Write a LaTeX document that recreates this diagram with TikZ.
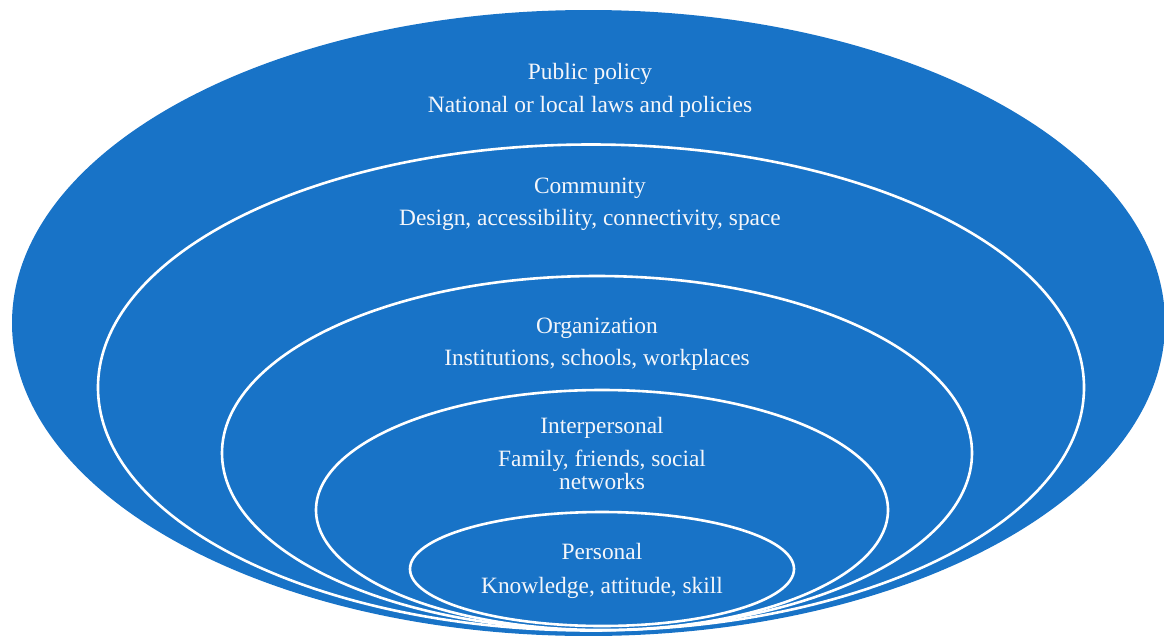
\documentclass[tikz,border=0pt]{standalone}
\usepackage{fontspec}
\setmainfont{Liberation Serif}
\definecolor{bg}{RGB}{24,115,199}
\definecolor{txt}{RGB}{244,246,250}
\begin{document}
\begin{tikzpicture}[x=1pt,y=-1pt,
  ring/.style={draw=white,line width=2.6pt,fill=bg},
  lbl/.style={text=txt,font=\fontsize{23.4}{24}\selectfont,anchor=base,inner sep=0pt}]
\useasboundingbox (0,0) rectangle (1164,635);
\clip (0,0) rectangle (1164,635);
\fill[bg] (588.5,323) ellipse [x radius=576.5, y radius=313];
\draw[ring] (591,387.5) ellipse [x radius=493, y radius=243];
\draw[ring] (597,453) ellipse [x radius=375, y radius=177];
\draw[ring] (602,510) ellipse [x radius=286, y radius=120];
\draw[ring] (602,569) ellipse [x radius=192, y radius=57];
\node[lbl] (pp)  at (590,79)  {Public policy};
\node[lbl] (ppd) at (590,112) {National or local laws and policies};
\node[lbl] (cm)  at (590,193) {Community};
\node[lbl] (cmd) at (590,225) {Design, accessibility, connectivity, space};
\node[lbl] (og)  at (597,333) {Organization};
\node[lbl] (ogd) at (597,365) {Institutions, schools, workplaces};
\node[lbl] (ip)  at (602,433) {Interpersonal};
\node[lbl] (ipd) at (602,466) {Family, friends, social};
\node[lbl] (ipe) at (602,489) {networks};
\node[lbl] (ps)  at (602,559) {Personal};
\node[lbl] (psd) at (602,593) {Knowledge, attitude, skill};
\end{tikzpicture}
\end{document}
